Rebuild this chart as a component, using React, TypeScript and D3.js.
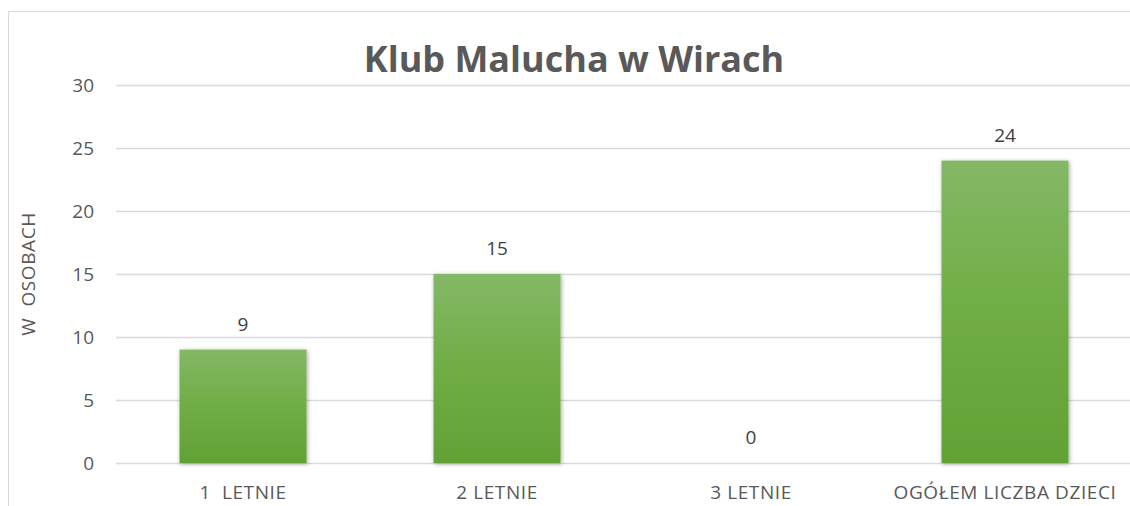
import React, { useEffect, useRef } from 'react';
import * as d3 from 'd3';

const categories = ["1  LETNIE", "2 LETNIE", "3 LETNIE", "OGÓŁEM LICZBA DZIECI"];
const values = [9, 15, 0, 24];
const yTicks = [0, 5, 10, 15, 20, 25, 30];

const width = 1130;
const height = 506;
const margin = { top: 85, left: 116, right: -2, bottom: 43 };

function App() {
    const svgRef = useRef<SVGSVGElement>(null);

    useEffect(() => {
        const svg = d3.select(svgRef.current);
        svg.selectAll("*").remove();

        const defs = svg.append("defs");
        const grad = defs.append("linearGradient")
            .attr("id", "barGrad")
            .attr("x1", 0).attr("y1", 0).attr("x2", 0).attr("y2", 1);
        grad.append("stop").attr("offset", "0%").attr("stop-color", "#83b866");
        grad.append("stop").attr("offset", "50%").attr("stop-color", "#70ad45");
        grad.append("stop").attr("offset", "100%").attr("stop-color", "#62a135");

        const shadow = defs.append("filter").attr("id", "shadow")
            .attr("x", "-20%").attr("y", "-20%").attr("width", "140%").attr("height", "140%");
        shadow.append("feDropShadow")
            .attr("dx", 1).attr("dy", 1).attr("stdDeviation", 2)
            .attr("flood-color", "#000").attr("flood-opacity", 0.35);

        // chart border
        svg.append("rect")
            .attr("x", 8.5).attr("y", 11.5)
            .attr("width", 1200).attr("height", 600)
            .attr("fill", "#fff").attr("stroke", "#d9d9d9");

        const xScale = d3.scaleBand()
            .domain(categories)
            .range([margin.left, width - margin.right])
            .paddingInner(0.5)
            .paddingOuter(0.25);

        const yScale = d3.scaleLinear()
            .domain([0, 30])
            .range([height - margin.bottom, margin.top]);

        // gridlines
        svg.append("g")
            .selectAll("line")
            .data(yTicks)
            .join("line")
            .attr("x1", margin.left)
            .attr("x2", width)
            .attr("y1", d => Math.round(yScale(d)) + 0.5)
            .attr("y2", d => Math.round(yScale(d)) + 0.5)
            .attr("stroke", "#d9d9d9")
            .attr("stroke-width", 1.5);

        const yAxis = d3.axisLeft(yScale).tickValues(yTicks).tickSize(0).tickPadding(22);
        const yG = svg.append("g")
            .attr("transform", "translate(" + margin.left + ",0)")
            .call(yAxis);
        yG.select(".domain").remove();
        yG.selectAll("text")
            .attr("font-family", "Open Sans")
            .attr("font-size", 19)
            .attr("fill", "#595959");

        // bars
        svg.append("g")
            .selectAll("rect")
            .data(values)
            .join("rect")
            .attr("x", (d, i) => xScale(categories[i])!)
            .attr("y", d => yScale(d))
            .attr("width", xScale.bandwidth())
            .attr("height", d => yScale(0) - yScale(d))
            .attr("fill", "url(#barGrad)")
            .attr("filter", "url(#shadow)");

        // value labels
        svg.append("g")
            .selectAll("text")
            .data(values)
            .join("text")
            .attr("x", (d, i) => xScale(categories[i])! + xScale.bandwidth() / 2)
            .attr("y", d => yScale(d) - 19)
            .attr("text-anchor", "middle")
            .attr("font-family", "Open Sans")
            .attr("font-size", 19)
            .attr("fill", "#404040")
            .text(d => d);

        const xAxis = d3.axisBottom(xScale).tickSize(0).tickPadding(23);
        const xG = svg.append("g")
            .attr("transform", "translate(0," + yScale(0) + ")")
            .call(xAxis);
        xG.select(".domain").remove();
        xG.selectAll("text")
            .attr("font-family", "Open Sans")
            .attr("font-size", 19)
            .attr("letter-spacing", 0.6)
            .attr("fill", "#595959")
            .style("white-space", "pre");

        // title
        svg.append("text")
            .attr("x", 574)
            .attr("y", 72)
            .attr("text-anchor", "middle")
            .attr("font-family", "Open Sans")
            .attr("font-weight", "bold")
            .attr("font-size", 36)
            .attr("fill", "#595959")
            .text("Klub Malucha w Wirach");

        // y axis title
        svg.append("text")
            .attr("transform", "translate(35," + yScale(15) + ") rotate(-90)")
            .attr("text-anchor", "middle")
            .attr("font-family", "Open Sans")
            .attr("font-size", 19)
            .attr("letter-spacing", 0.6)
            .attr("fill", "#595959")
            .style("white-space", "pre")
            .text("W  OSOBACH");
    }, []);

    return (
        <svg ref={svgRef} width={width} height={height}
             style={{ position: "absolute", left: 0, top: 0 }}>
        </svg>
    );
}

export default App;
